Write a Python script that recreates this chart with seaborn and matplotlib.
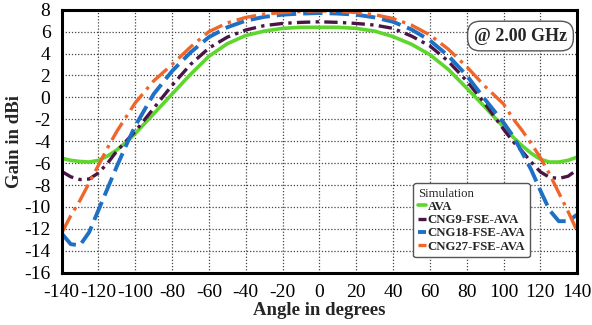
import numpy as np
import pandas as pd
import seaborn as sns
import matplotlib.pyplot as plt
from matplotlib import font_manager

# angle grid (deg) and gain values (dBi)
angle = [-140, -135, -130, -125, -120, -115, -110, -105, -100, -90, -80, -70, -60, -50, -40,
         -30, -20, -10, 0, 10, 20, 30, 40, 50, 60, 70, 80, 90, 100, 105, 110, 115, 120, 125,
         130, 135, 140]

ava = [-5.55, -5.75, -5.85, -5.9, -5.75, -5.35, -4.8, -4.1, -3.3, -1.5, 0.3, 2.1, 3.75, 4.9,
       5.65, 6.05, 6.3, 6.4, 6.4, 6.4, 6.3, 6.05, 5.55, 4.85, 3.9, 2.55, 0.85, -0.9, -2.7, -3.6,
       -4.4, -5.1, -5.65, -5.9, -5.9, -5.75, -5.45]

cng9 = [-6.75, -7.25, -7.5, -7.45, -6.9, -6.0, -4.9, -4.0, -3.1, -1.0, 1.1, 3.0, 4.5, 5.5,
        6.15, 6.55, 6.75, 6.85, 6.9, 6.85, 6.75, 6.6, 6.3, 5.6, 4.7, 3.3, 1.5, -0.6, -2.9, -4.0,
        -4.9, -5.9, -6.8, -7.3, -7.4, -7.2, -6.6]

cng18 = [-12.4, -13.4, -13.5, -12.3, -10.3, -8.3, -6.3, -4.4, -2.6, 0.3, 2.4, 4.1, 5.5, 6.4,
         7.0, 7.35, 7.55, 7.65, 7.7, 7.65, 7.55, 7.3, 6.9, 6.2, 5.2, 3.8, 2.0, -0.2, -2.3, -3.5,
         -5.0, -6.6, -8.5, -10.3, -11.3, -11.3, -10.7]

cng27 = [-12.4, -10.8, -9.4, -7.8, -6.2, -4.6, -3.1, -1.8, -0.5, 1.5, 3.0, 4.6, 6.0, 6.8,
         7.3, 7.6, 7.75, 7.85, 7.9, 7.85, 7.75, 7.55, 7.2, 6.6, 5.7, 4.4, 2.8, 1.0, -0.6, -1.9,
         -3.0, -4.2, -5.5, -7.0, -8.7, -10.4, -12.2]

labels = ['AVA', 'CNG9-FSE-AVA', 'CNG18-FSE-AVA', 'CNG27-FSE-AVA']
x_ticks = list(range(-140, 141, 20))
y_ticks = list(range(-16, 9, 2))

sns.set_style('white')
installed = {f.name for f in font_manager.fontManager.ttflist}
serif = [n for n in ['Liberation Serif', 'Tinos', 'Nimbus Roman', 'DejaVu Serif'] if n in installed]
plt.rcParams['font.family'] = 'serif'
plt.rcParams['font.serif'] = serif

fig = plt.figure(figsize=(5.92, 3.25), dpi=100)
ax = fig.add_axes([0.104, 0.161, 0.871, 0.809])

styles = [
    dict(color='#5fd62e', lw=2.6, ls='-'),
    dict(color='#4a1545', lw=2.4, ls=(0, (4, 1.6, 1, 1.6))),
    dict(color='#1f6fc4', lw=2.8, ls=(0, (5, 1.8))),
    dict(color='#f0652a', lw=2.4, ls=(0, (6, 1.8, 1, 1.8))),
]
series = [ava, cng9, cng18, cng27]
for name, vals, st in zip(labels, series, styles):
    df = pd.DataFrame({'angle': angle, 'gain': vals})
    sns.lineplot(data=df, x='angle', y='gain', ax=ax, label=name,
                 color=st['color'], linewidth=st['lw'], linestyle=st['ls'])

ax.set_xlim(-140, 140)
ax.set_ylim(-16, 8)
ax.set_xticks(x_ticks)
ax.set_yticks(y_ticks)
ax.set_xticklabels([str(t) for t in x_ticks])
ax.set_yticklabels([str(t) for t in y_ticks])
ax.grid(True, color='#444444', linestyle=(0, (1, 1.5)), linewidth=0.9)
for s in ax.spines.values():
    s.set_linewidth(2.2)
    s.set_color('black')
ax.tick_params(axis='both', direction='out', length=7, width=2, labelsize=14,
               colors='black', pad=1)

ax.set_xlabel('Angle in degrees', fontsize=13.5, fontweight='bold', labelpad=1)
ax.set_ylabel('Gain in dBi', fontsize=13.5, fontweight='bold', labelpad=1)

ax.text(0.89, 0.9, '@ 2.00 GHz', transform=ax.transAxes, ha='center', va='center',
        fontsize=13, fontweight='bold',
        bbox=dict(boxstyle='round,pad=0.35,rounding_size=0.7', fc='white', ec='#555555', lw=1))

leg = ax.legend(title='Simulation', loc='upper left', bbox_to_anchor=(0.67, 0.365),
                fontsize=9.2, title_fontsize=9.2, handlelength=0.6, handletextpad=0.15,
                labelspacing=0.1, borderpad=0.35, frameon=True, fancybox=True,
                edgecolor='#555555', framealpha=1)
leg._legend_box.align = 'left'
for t in leg.get_texts():
    t.set_fontweight('bold')
leg.get_frame().set_linewidth(1)

fig.savefig('out.png', dpi=100)
